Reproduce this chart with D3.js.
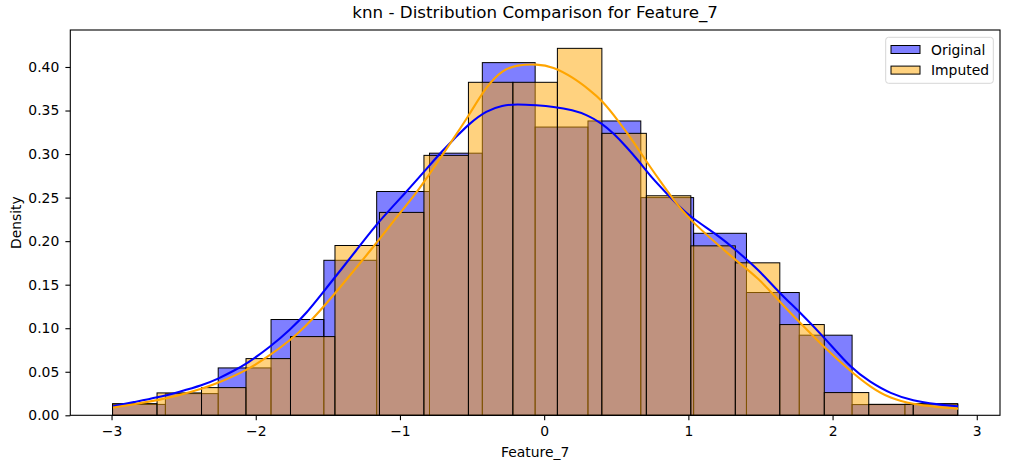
<!DOCTYPE html>
<html>
<head>
<meta charset="utf-8">
<script src="https://cdn.jsdelivr.net/npm/d3@7"></script>
<style>
	body { margin: 0; background: #fff; }
	text { font-family: "DejaVu Sans", sans-serif; fill: #000; }
</style>
</head>
<body>
<script>
// histogram range shared by both series (data min / max on Feature_7)
var dataMin = -2.993,
	dataMax = 2.868;

// Original: 16 bins, density per bin
var originalDensity = [0.0125, 0.0249, 0.0544, 0.110, 0.178, 0.257, 0.301, 0.405,
	0.331, 0.338, 0.250, 0.209, 0.141, 0.092, 0.0123, 0.0126];

// Imputed: 19 bins, density per bin
var imputedDensity = [0.0134, 0.0257, 0.0318, 0.0651, 0.0904, 0.195, 0.233, 0.2985,
	0.3824, 0.3824, 0.4214, 0.3238, 0.2521, 0.1946, 0.1751, 0.1042, 0.0261, 0.0126, 0.0134];

// kde curves: [x, density]
var originalKde = [[-2.99, 0.0103], [-2.85, 0.0150], [-2.68, 0.0205], [-2.53, 0.0270],
	[-2.37, 0.0345], [-2.26, 0.0420], [-2.16, 0.0505], [-2.06, 0.0595], [-1.90, 0.0785],
	[-1.76, 0.0985], [-1.65, 0.1170], [-1.53, 0.1420], [-1.29, 0.1920], [-1.15, 0.2222],
	[-0.955, 0.2567], [-0.833, 0.2797], [-0.70, 0.3050], [-0.62, 0.3180], [-0.52, 0.3350],
	[-0.40, 0.3500], [-0.29, 0.3560], [-0.19, 0.3575], [-0.05, 0.3560], [0.06, 0.3545],
	[0.20, 0.3506], [0.30, 0.3448], [0.40, 0.3353], [0.48, 0.3240], [0.57, 0.3084],
	[0.66, 0.2912], [0.75, 0.2720], [0.85, 0.2548], [0.94, 0.2394], [1.02, 0.2270],
	[1.22, 0.2050], [1.33, 0.1897], [1.49, 0.1667], [1.63, 0.1406], [1.77, 0.1190],
	[1.95, 0.0881], [2.13, 0.0536], [2.26, 0.0383], [2.40, 0.0249], [2.56, 0.0165],
	[2.72, 0.0126], [2.87, 0.0103]];

var imputedKde = [[-2.99, 0.0088], [-2.85, 0.0126], [-2.68, 0.0172], [-2.53, 0.0230],
	[-2.37, 0.0307], [-2.26, 0.0372], [-2.06, 0.0517], [-1.90, 0.0690], [-1.76, 0.0862],
	[-1.65, 0.1030], [-1.56, 0.1190], [-1.45, 0.1400], [-1.175, 0.1950], [-1.00, 0.2326],
	[-0.875, 0.2571], [-0.70, 0.3004], [-0.62, 0.3200], [-0.52, 0.3450], [-0.40, 0.3780],
	[-0.29, 0.3966], [-0.19, 0.4023], [-0.05, 0.4034], [0.06, 0.4003], [0.20, 0.3880],
	[0.315, 0.3736], [0.40, 0.3620], [0.52, 0.3370], [0.62, 0.3140], [0.71, 0.2912],
	[0.80, 0.2700], [0.89, 0.2490], [1.00, 0.2260], [1.22, 0.1935], [1.33, 0.1780],
	[1.49, 0.1570], [1.63, 0.1310], [1.77, 0.1070], [1.95, 0.0766], [2.13, 0.0498],
	[2.26, 0.0326], [2.40, 0.0192], [2.56, 0.0126], [2.72, 0.0095], [2.87, 0.0077]];

var xTicks = [-3, -2, -1, 0, 1, 2, 3];
var yTicks = [0, 0.05, 0.10, 0.15, 0.20, 0.25, 0.30, 0.35, 0.40];

var seriesNames = ["Original", "Imputed"];

function graph(){
	var W = 1010, H = 468;
	var margin = {top: 30, right: 10, bottom: 52.7, left: 70.3},
		width = W - margin.left - margin.right,
		height = H - margin.top - margin.bottom;

	var fill = {Original: "rgba(0,0,255,0.5)", Imputed: "rgba(255,165,0,0.5)"};
	var line = {Original: "#0000ff", Imputed: "#ffa500"};

	// matplotlib style 5% margins
	var pad = (dataMax - dataMin) * 0.05;
	var yMax = d3.max(originalDensity.concat(imputedDensity)) * 1.05;

	var xScale = d3.scaleLinear().domain([dataMin - pad, dataMax + pad]).range([0, width]);
	var yScale = d3.scaleLinear().domain([0, yMax]).range([height, 0]);

	var svg = d3.select("body")
				.append("svg")
				.attr("width", W)
				.attr("height", H);

	svg.append("rect").attr("width", W).attr("height", H).attr("fill", "#fff");

	var g = svg.append("g")
			.attr("transform", "translate(" + margin.left + "," + margin.top + ")");

	function bins(values){
		var step = (dataMax - dataMin) / values.length;
		return values.map(function(v, i){
			return {x0: dataMin + i * step, x1: dataMin + (i + 1) * step, y: v};
		});
	}

	var series = [
		{name: "Original", bins: bins(originalDensity), kde: originalKde},
		{name: "Imputed", bins: bins(imputedDensity), kde: imputedKde}
	];

	// bars first (patches sit below lines in matplotlib)
	series.forEach(function(s){
		g.append("g")
			.selectAll("rect")
			.data(s.bins)
			.enter()
			.append("rect")
			.attr("x", function(d){ return xScale(d.x0); })
			.attr("y", function(d){ return yScale(d.y); })
			.attr("width", function(d){ return xScale(d.x1) - xScale(d.x0); })
			.attr("height", function(d){ return yScale(0) - yScale(d.y); })
			.attr("fill", fill[s.name])
			.attr("stroke", "#000")
			.attr("stroke-width", 1);
	});

	var kdeLine = d3.line()
		.x(function(d){ return xScale(d[0]); })
		.y(function(d){ return yScale(d[1]); })
		.curve(d3.curveBasis);

	series.forEach(function(s){
		g.append("path")
			.datum(s.kde)
			.attr("d", kdeLine)
			.attr("fill", "none")
			.attr("stroke", line[s.name])
			.attr("stroke-width", 2.1);
	});

	var xAxis = d3.axisBottom(xScale).tickValues(xTicks)
		.tickFormat(d3.format("d")).tickSize(4.9).tickPadding(6);
	var yAxis = d3.axisLeft(yScale).tickValues(yTicks)
		.tickFormat(d3.format(".2f")).tickSize(4.9).tickPadding(6.1);

	var gx = g.append("g")
		.attr("transform", "translate(0," + height + ")")
		.call(xAxis);
	var gy = g.append("g")
		.call(yAxis);

	[gx, gy].forEach(function(a){
		a.select(".domain").remove();
		a.selectAll("line").attr("stroke", "#000").attr("stroke-width", 1.1);
		a.selectAll("text").attr("font-size", "13.9px").attr("font-family", "DejaVu Sans").attr("fill", "#000");
	});

	// spines
	g.append("rect")
		.attr("width", width)
		.attr("height", height)
		.attr("fill", "none")
		.attr("stroke", "#000")
		.attr("stroke-width", 1.1);

	svg.append("text")
		.attr("x", margin.left + width / 2)
		.attr("y", 18)
		.attr("text-anchor", "middle")
		.attr("font-size", "16.7px")
		.text("knn - Distribution Comparison for Feature_7");

	svg.append("text")
		.attr("x", margin.left + width / 2)
		.attr("y", 457)
		.attr("text-anchor", "middle")
		.attr("font-size", "13.9px")
		.text("Feature_7");

	svg.append("text")
		.attr("transform", "translate(21," + (margin.top + height / 2) + ") rotate(-90)")
		.attr("text-anchor", "middle")
		.attr("font-size", "13.9px")
		.text("Density");

	// legend
	var legend = svg.append("g").attr("transform", "translate(885.7,37.3)");
	legend.append("rect")
		.attr("width", 107.6)
		.attr("height", 46)
		.attr("rx", 2.8)
		.attr("fill", "rgba(255,255,255,0.8)")
		.attr("stroke", "#d6d6d6")
		.attr("stroke-width", 1);

	var item = legend.selectAll("g.item")
		.data(seriesNames)
		.enter()
		.append("g")
		.attr("class", "item")
		.attr("transform", function(d, i){ return "translate(0," + (i * 20.6) + ")"; });

	item.append("rect")
		.attr("x", 5.3)
		.attr("y", 8.2)
		.attr("width", 29)
		.attr("height", 8)
		.attr("fill", function(d){ return fill[d]; })
		.attr("stroke", "#000")
		.attr("stroke-width", 1);

	item.append("text")
		.attr("x", 45.3)
		.attr("y", 17.3)
		.attr("font-size", "13.9px")
		.text(function(d){ return d; });
}

graph()
</script>
</body>
</html>
